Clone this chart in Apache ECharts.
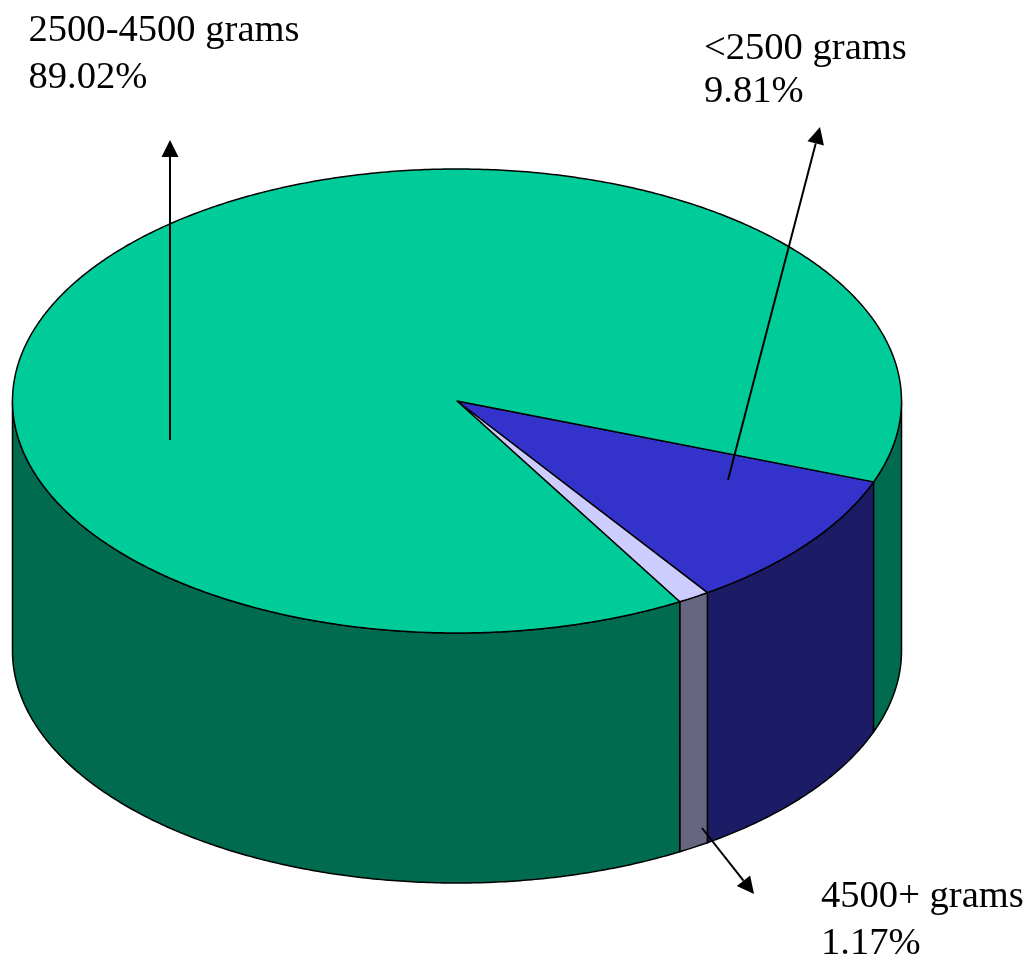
<!DOCTYPE html>
<html>
<head>
<meta charset="utf-8">
<script src="https://cdn.jsdelivr.net/npm/echarts@6/dist/echarts.min.js"></script>
<style>
  html, body { margin: 0; padding: 0; background: #ffffff; }
  #chart { width: 1032px; height: 961px; }
</style>
</head>
<body>
<div id="chart"></div>
<script>
// Birth weight distribution; slices listed clockwise from the start angle
const categories = ['<2500 grams', '4500+ grams', '2500-4500 grams'];
const percents = [9.81, 1.17, 89.02];

// face colours (top face, outer wall)
const topColors = ['#3333CC', '#CCCCFF', '#00CC99'];
const sideColors = ['#1C1C66', '#666680', '#006B4F'];

// disc geometry: ellipse centre, radii, wall height, first slice angle (deg, clockwise)
const disc = { cx: 457, cy: 401, rx: 444.5, ry: 232, depth: 250, startDeg: 20.4 };

// callout layout: text left edge, line centres, arrow tail and tip
const callouts = {
  '<2500 grams':     { x: 704, y1: 49.3,  y2: 91.7,  tail: [728, 480], tip: [820, 127] },
  '4500+ grams':     { x: 821, y1: 897.2, y2: 943.8, tail: [702, 828], tip: [754, 894] },
  '2500-4500 grams': { x: 28.5, y1: 31.3, y2: 78,    tail: [170, 440], tip: [170, 140] }
};

const total = percents.reduce((a, b) => a + b, 0);
const cumulative = [];
percents.reduce((acc, v, i) => { cumulative[i] = acc; return acc + v; }, 0);

function ellipsePoint(deg, dy) {
  const r = deg * Math.PI / 180;
  return [disc.cx + disc.rx * Math.cos(r), disc.cy + disc.ry * Math.sin(r) + dy];
}

function arc(a0, a1, dy) {
  const n = Math.max(2, Math.ceil(Math.abs(a1 - a0) / 0.5) + 1);
  const pts = [];
  for (let k = 0; k < n; k++) {
    pts.push(ellipsePoint(a0 + (a1 - a0) * k / (n - 1), dy));
  }
  return pts;
}

const lineStyle = { stroke: '#000000', lineWidth: 1.5, lineJoin: 'round' };

function arrow(tail, tip) {
  const dx = tip[0] - tail[0], dy = tip[1] - tail[1];
  const len = Math.sqrt(dx * dx + dy * dy);
  const ux = dx / len, uy = dy / len;
  const headLen = 17, halfW = 8.5;
  const base = [tip[0] - ux * headLen, tip[1] - uy * headLen];
  return [
    { type: 'line', z2: 5, shape: { x1: tail[0], y1: tail[1], x2: base[0], y2: base[1] },
      style: { stroke: '#000000', lineWidth: 2 } },
    { type: 'polygon', z2: 5, shape: { points: [
        tip,
        [base[0] - uy * halfW, base[1] + ux * halfW],
        [base[0] + uy * halfW, base[1] - ux * halfW]
      ] }, style: { fill: '#000000' } }
  ];
}

function renderSlice(params, api) {
  const i = params.dataIndex;
  const value = api.value(0);
  const start = api.value(1);
  const a0 = disc.startDeg + start / total * 360;
  const a1 = a0 + value / total * 360;
  const children = [];

  // outer wall: only the front half of the disc (0..180 deg) faces the viewer
  [[0, 180], [360, 540]].forEach(w => {
    const s = Math.max(a0, w[0]);
    const e = Math.min(a1, w[1]);
    if (e > s) {
      const pts = arc(s, e, 0).concat(arc(e, s, disc.depth));
      children.push({
        type: 'polygon', z2: 1, shape: { points: pts },
        style: Object.assign({ fill: sideColors[i] }, lineStyle)
      });
    }
  });

  // top face sector
  const topPts = [[disc.cx, disc.cy]].concat(arc(a0, a1, 0));
  children.push({
    type: 'polygon', z2: 2, shape: { points: topPts },
    style: Object.assign({ fill: topColors[i] }, lineStyle)
  });

  // callout: arrow and two text lines
  const name = categories[i];
  const c = callouts[name];
  arrow(c.tail, c.tip).forEach(el => children.push(el));
  const textStyle = { fill: '#000000', fontSize: 38.6, fontFamily: '"Liberation Serif", "Times New Roman", serif',
                      align: 'left', verticalAlign: 'middle' };
  children.push({ type: 'text', z2: 6, x: c.x, y: c.y1, style: Object.assign({ text: name }, textStyle) });
  children.push({ type: 'text', z2: 6, x: c.x, y: c.y2,
                  style: Object.assign({ text: value.toFixed(2) + '%' }, textStyle) });

  return { type: 'group', children: children };
}

const chart = echarts.init(document.getElementById('chart'), null, { renderer: 'canvas' });
chart.setOption({
  backgroundColor: '#ffffff',
  animation: false,
  series: [{
    type: 'custom',
    coordinateSystem: 'none',
    silent: true,
    renderItem: renderSlice,
    data: categories.map((name, i) => ({ name: name, value: [percents[i], cumulative[i]] }))
  }]
});
</script>
</body>
</html>
